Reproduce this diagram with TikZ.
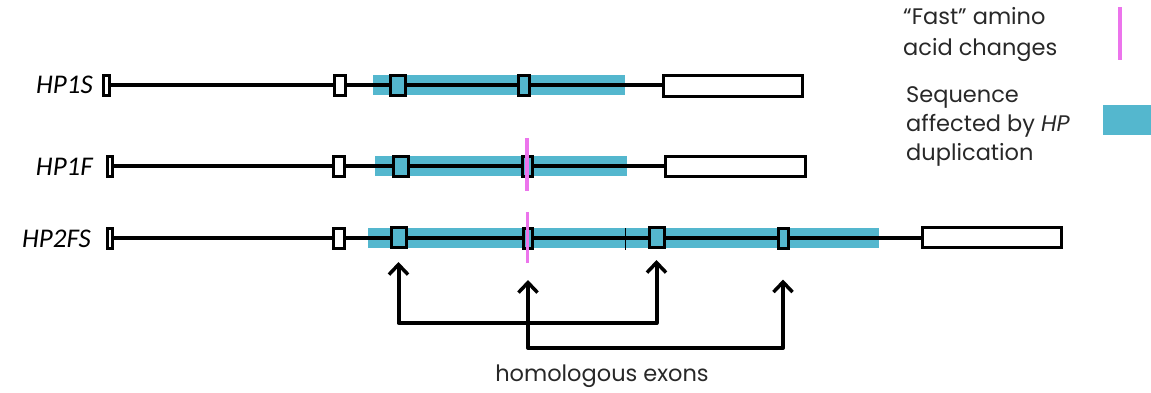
\documentclass[tikz,border=0pt]{standalone}
\usepackage{fontspec}
\setmainfont{Poppins}
\newfontfamily\genefont{Carlito}
\usepackage{tikz}
\usetikzlibrary{arrows.meta}
\definecolor{dupblue}{RGB}{84,183,206}
\definecolor{fastpink}{RGB}{236,116,236}
\definecolor{txtgray}{RGB}{40,40,40}
\tikzstyle{exon} = [draw, line width=3pt, fill=white, inner sep=0pt, minimum height=20pt]
\tikzstyle{dup} = [fill=dupblue, inner sep=0pt, minimum height=20pt]
\tikzstyle{intron} = [line width=3.4pt]
\tikzstyle{fastaa} = [fastpink, line width=3.5pt]
\tikzstyle{gene} = [font=\genefont\itshape\fontsize{27}{27}\selectfont, anchor=base east, inner sep=0pt]
\tikzstyle{key} = [anchor=north west, align=left, inner sep=0pt, text=txtgray]
\tikzstyle{homarr} = [{Straight Barb[length=10pt,width=19pt,line width=3.5pt]}-{Straight Barb[length=10pt,width=19pt,line width=3.5pt]}, line width=4pt, line join=round]

\begin{document}
\begin{tikzpicture}[x=1pt,y=-1pt]
			\useasboundingbox (0,0) rectangle (1151,392);
			% HP1S
			\node[gene] (g1) at (93,93) {HP1S};
			\node[dup, minimum width=252pt] (b1) at (499,85) {};
			\draw[intron] (106,85) -- (732,85);
			\draw[intron, line width=4.6pt] (b1.west) -- (b1.east);
			\node[exon, minimum width=6pt] (a1) at (106,85) {};
			\node[exon, minimum width=11pt] (a2) at (339.5,85) {};
			\node[exon, minimum width=15pt, fill=dupblue] (a3) at (398,85) {};
			\node[exon, minimum width=11pt, fill=dupblue] (a4) at (524,85) {};
			\node[exon, minimum width=139pt, minimum height=21pt] (a5) at (732.5,85.5) {};
			% HP1F
			\node[gene] (g2) at (93,175) {HP1F};
			\node[dup, minimum width=252pt] (b2) at (501,166) {};
			\draw[intron] (109.5,166) -- (735,166);
			\draw[intron, line width=4.6pt] (b2.west) -- (b2.east);
			\node[exon, minimum width=5pt] (f1) at (109.5,166) {};
			\node[exon, minimum width=11pt] (f2) at (338.5,166) {};
			\node[exon, minimum width=15pt, fill=dupblue] (f3) at (400.5,166) {};
			\node[exon, minimum width=10pt, fill=dupblue] (f4) at (527,166) {};
			\node[exon, minimum width=140pt] (f5) at (735,166.5) {};
			\draw[fastaa] (f4.center) ++(0,-28) -- ++(0,53);
			% HP2FS
			\node[gene] (g3) at (91,247) {HP2FS};
			\node[dup, minimum width=511pt] (b3) at (623.5,238) {};
			\draw[intron] (109.5,238) -- (991,238);
			\draw[intron, line width=4.6pt] (b3.west) -- (b3.east);
			\draw[line width=1pt] (625,228) -- (625,250);
			\node[exon, minimum width=5pt] (c1) at (109.5,238) {};
			\node[exon, minimum width=11pt] (c2) at (338.5,238) {};
			\node[exon, minimum width=15pt, fill=dupblue] (c3) at (398.5,237.5) {};
			\node[exon, minimum width=9pt, fill=dupblue] (c4) at (527.5,238) {};
			\node[exon, minimum width=15pt, fill=dupblue] (c5) at (656.5,237.5) {};
			\node[exon, minimum width=10pt, fill=dupblue] (c6) at (783,238) {};
			\node[exon, minimum width=139pt] (c7) at (991.5,237.5) {};
			\draw[fastaa] (c4.center) ++(0,-26) -- ++(0,51);
			% homologous exon pairs
			\coordinate (t1) at ([yshift=-13pt]c3.south);
			\coordinate (t2) at ([yshift=-11pt]c5.south);
			\coordinate (t3) at (528,280);
			\coordinate (t4) at ([yshift=-30pt]c6.south);
			\draw[homarr] (t1) -- (t1 |- 0,323) -| (t2);
			\draw[homarr] (t3) -- (t3 |- 0,348) -| (t4);
			\node[text=txtgray, font=\fontsize{22.5}{22.5}\selectfont] (hom) at (602,376) {homologous exons};
			% key
			\node[key, font=\fontsize{22.5}{31}\selectfont] (k1) at (903,7) {``Fast'' amino\\acid changes};
			\draw[fastaa] (1120,7) -- (1120,60);
			\node[key, font=\fontsize{22.5}{29}\selectfont] (k2) at (906,86) {Sequence\\affected by \textit{HP}\\duplication};
			\fill[dupblue] (1103,105) rectangle (1151,135);
		\end{tikzpicture}
\end{document}
